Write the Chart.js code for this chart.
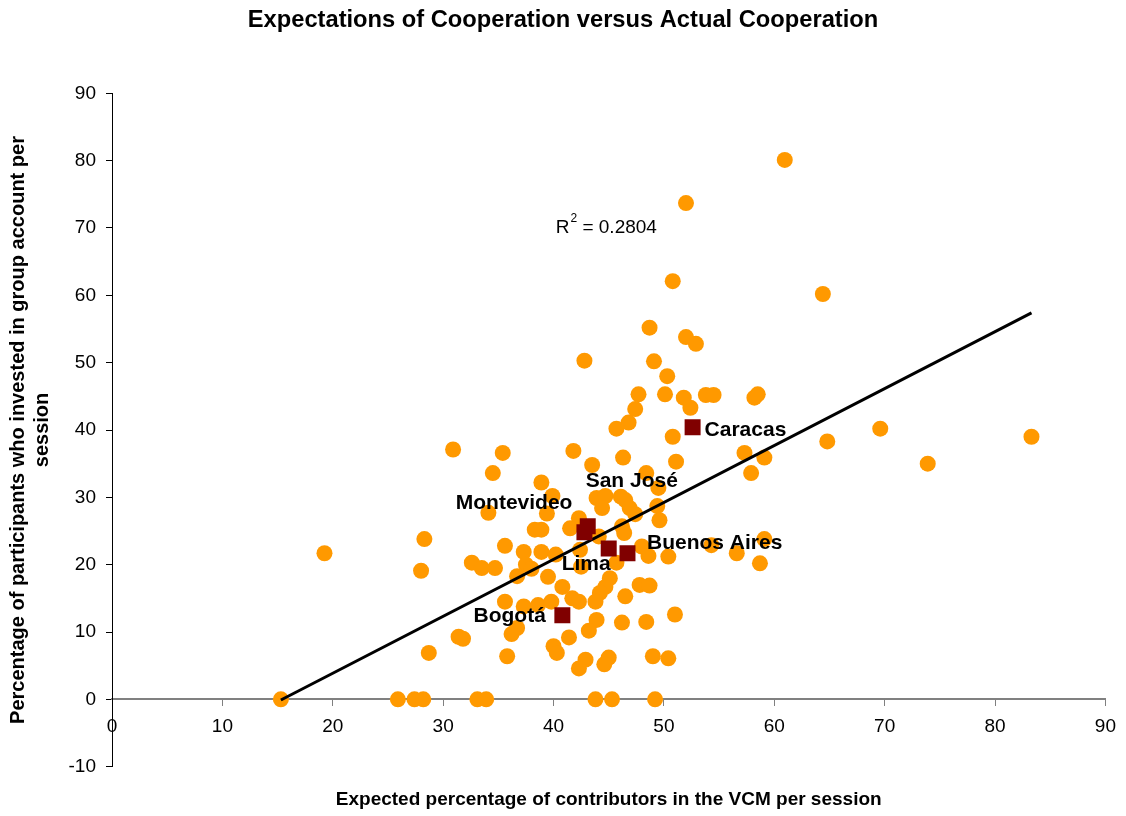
<!DOCTYPE html>
<html>
<head>
<meta charset="utf-8">
<script src="https://cdn.jsdelivr.net/npm/chart.js@4/dist/chart.umd.min.js"></script>
<style>
  html, body { margin: 0; padding: 0; background: #ffffff; }
  #wrap { width: 1126px; height: 816px; }
</style>
</head>
<body>
<div id="wrap"><canvas id="chart" width="1126" height="816"></canvas></div>
<script>
// Expected percentage of contributors (x) and percentage who invested (y), one pair per session
const expectedPct = [
  60.95, 52.0, 50.8, 64.4, 48.7, 52.0, 52.9, 42.8, 49.1, 50.3,
  47.7, 50.1, 53.8, 54.5, 58.2, 58.5, 51.8, 47.4, 52.4, 46.8,
  45.7, 50.8, 69.6, 83.3, 64.8, 57.3, 59.1, 57.9, 73.9, 30.9,
  35.4, 41.8, 46.3, 43.5, 51.1, 34.5, 48.4, 38.9, 49.5, 39.9,
  43.9, 44.7, 46.1, 46.5, 44.4, 46.9, 47.4, 49.4, 34.1, 39.4,
  42.3, 49.6, 38.3, 38.9, 41.5, 46.2, 46.4, 44.1, 28.3, 35.6,
  37.3, 38.9, 40.2, 42.4, 48.0, 48.6, 50.4, 54.3, 56.6, 59.1,
  58.7, 19.25, 32.6, 33.5, 34.7, 28.0, 37.5, 38.0, 36.7, 39.5,
  42.5, 45.7, 45.1, 44.7, 40.8, 47.8, 48.7, 44.2, 43.8, 41.7,
  42.3, 46.5, 35.6, 37.3, 38.6, 39.8, 36.7, 36.2, 31.4, 31.8,
  28.7, 35.8, 43.9, 43.2, 41.4, 40.0, 40.3, 46.2, 48.4, 51.0,
  42.9, 42.3, 45.0, 44.6, 49.0, 50.4,
  15.3, 25.9, 27.4, 28.2, 33.1, 33.9, 43.8, 45.3, 49.2
];
const investedPct = [
  80.1, 73.7, 62.1, 60.2, 55.2, 53.8, 52.8, 50.3, 50.2, 48.0,
  45.3, 45.3, 45.2, 45.2, 44.8, 45.3, 44.8, 43.1, 43.3, 41.1,
  40.2, 39.0, 40.2, 39.0, 38.3, 36.6, 35.9, 33.6, 35.0, 37.1,
  36.6, 36.9, 35.9, 34.8, 35.3, 33.6, 33.6, 32.2, 31.4, 30.2,
  29.9, 30.2, 30.1, 29.6, 28.4, 28.4, 27.5, 28.7, 27.7, 27.6,
  26.9, 26.6, 25.2, 25.2, 25.4, 25.7, 24.7, 24.2, 23.8, 22.8,
  21.9, 21.9, 21.5, 22.2, 22.7, 21.3, 21.2, 22.9, 21.7, 23.8,
  20.2, 21.7, 20.3, 19.5, 19.5, 19.1, 20.0, 19.4, 18.3, 18.2,
  19.7, 20.3, 18.0, 16.7, 16.7, 17.0, 16.9, 15.8, 14.5, 15.0,
  14.5, 15.3, 14.5, 13.8, 14.0, 14.5, 10.6, 9.7, 9.3, 9.0,
  6.9, 6.4, 11.8, 10.2, 9.2, 7.9, 6.9, 11.4, 11.5, 12.6,
  5.9, 4.6, 6.2, 5.2, 6.4, 6.1,
  0, 0, 0, 0, 0, 0, 0, 0, 0
];

// City averages, highlighted as squares
const cityNames = ['Caracas', 'San José', 'Montevideo', 'Lima', 'Buenos Aires', 'Bogotá'];
const cityExpected = [52.6, 43.1, 42.8, 45.0, 46.7, 40.8];
const cityInvested = [40.4, 25.7, 24.8, 22.4, 21.7, 12.5];

// Linear trend line (ends of the fitted segment)
const trendExpected = [15.3, 83.3];
const trendInvested = [-0.1, 57.4];
const rSquared = '0.2804';

const FONT = '"Liberation Sans", Arial, Helvetica, sans-serif';

// Where each city name sits relative to its square (pixels)
const cityLabelPlacement = {
  'Caracas':      { dx: 12,    dy: 3,    align: 'left' },
  'San José':     { dx: 44,    dy: -45,  align: 'center' },
  'Montevideo':   { dx: -12,   dy: -29,  align: 'right' },
  'Lima':         { dx: 2,     dy: 16,   align: 'right' },
  'Buenos Aires': { dx: 19.5,  dy: -10,  align: 'left' },
  'Bogotá':       { dx: -16.5, dy: 1,    align: 'right' }
};

const annotations = {
  id: 'annotations',
  afterDatasetsDraw(chart, args, opts) {
    const ctx = chart.ctx;
    ctx.save();
    ctx.fillStyle = '#000000';
    ctx.textBaseline = 'middle';
    ctx.font = 'bold 21px ' + FONT;
    const meta = chart.getDatasetMeta(2);
    meta.data.forEach((pt, i) => {
      const p = cityLabelPlacement[cityNames[i]];
      ctx.textAlign = p.align;
      ctx.fillText(cityNames[i], pt.x + p.dx, pt.y + p.dy);
    });

    // R² annotation for the trend line
    const px = chart.scales.x.getPixelForValue(opts.r2x);
    const py = chart.scales.y.getPixelForValue(opts.r2y);
    ctx.textAlign = 'left';
    ctx.textBaseline = 'alphabetic';
    ctx.font = '19px ' + FONT;
    ctx.fillText('R', px, py);
    const wR = ctx.measureText('R').width;
    ctx.font = '12px ' + FONT;
    ctx.fillText('2', px + wR + 1, py - 11);
    const w2 = ctx.measureText('2').width;
    ctx.font = '19px ' + FONT;
    ctx.fillText(' = ' + rSquared, px + wR + 1 + w2, py);
    ctx.restore();
  }
};

const ctx = document.getElementById('chart').getContext('2d');
new Chart(ctx, {
  type: 'scatter',
  data: {
    datasets: [
      {
        label: 'Sessions',
        data: expectedPct.map((x, i) => ({ x: x, y: investedPct[i] })),
        backgroundColor: '#FF9900',
        borderWidth: 0,
        pointRadius: 8,
        pointHoverRadius: 8,
        order: 3
      },
      {
        label: 'Linear trend',
        type: 'line',
        data: trendExpected.map((x, i) => ({ x: x, y: trendInvested[i] })),
        borderColor: '#000000',
        borderWidth: 3,
        pointRadius: 0,
        fill: false,
        showLine: true,
        order: 2
      },
      {
        label: 'Cities',
        data: cityExpected.map((x, i) => ({ x: x, y: cityInvested[i] })),
        pointStyle: 'rect',
        backgroundColor: '#800000',
        borderWidth: 0,
        pointRadius: 11.3,
        pointHoverRadius: 11.3,
        order: 1
      }
    ]
  },
  options: {
    responsive: false,
    animation: false,
    events: [],
    layout: { padding: { left: 17, right: 17, top: 0, bottom: 0 } },
    plugins: {
      legend: { display: false },
      tooltip: { enabled: false },
      title: {
        display: true,
        text: 'Expectations of Cooperation versus Actual Cooperation',
        color: '#000000',
        font: { family: FONT, size: 23.7, weight: 'bold' },
        padding: { top: 6, bottom: 58.86 }
      },
      subtitle: {
        display: true,
        position: 'bottom',
        fullSize: false,
        text: 'Expected percentage of contributors in the VCM per session',
        color: '#000000',
        font: { family: FONT, size: 19, weight: 'bold' },
        padding: { top: 21.9, bottom: 4.6 }
      },
      annotations: { r2x: 40.2, r2y: 69.3 }
    },
    scales: {
      x: {
        type: 'linear',
        position: { y: 0 },
        min: 0,
        max: 90,
        ticks: { stepSize: 10, color: '#000000', font: { family: FONT, size: 19 }, padding: 10, maxRotation: 0 },
        grid: { drawOnChartArea: false, drawTicks: true, tickLength: 6, color: '#808080' },
        border: { display: true, color: '#808080', width: 2 }
      },
      y: {
        type: 'linear',
        position: 'left',
        min: -10,
        max: 90,
        ticks: { stepSize: 10, color: '#000000', font: { family: FONT, size: 19 }, padding: 10 },
        grid: { drawOnChartArea: false, drawTicks: true, tickLength: 6, color: '#000000' },
        border: { display: true, color: '#000000', width: 1 },
        title: {
          display: true,
          text: ['Percentage of participants who invested in group account per', 'session'],
          color: '#000000',
          font: { family: FONT, size: 20, weight: 'bold', lineHeight: 1.2 },
          padding: { top: -11, bottom: 0 }
        },
        afterFit(scale) { scale.width = 95; }
      }
    }
  },
  plugins: [annotations]
});
</script>
</body>
</html>
